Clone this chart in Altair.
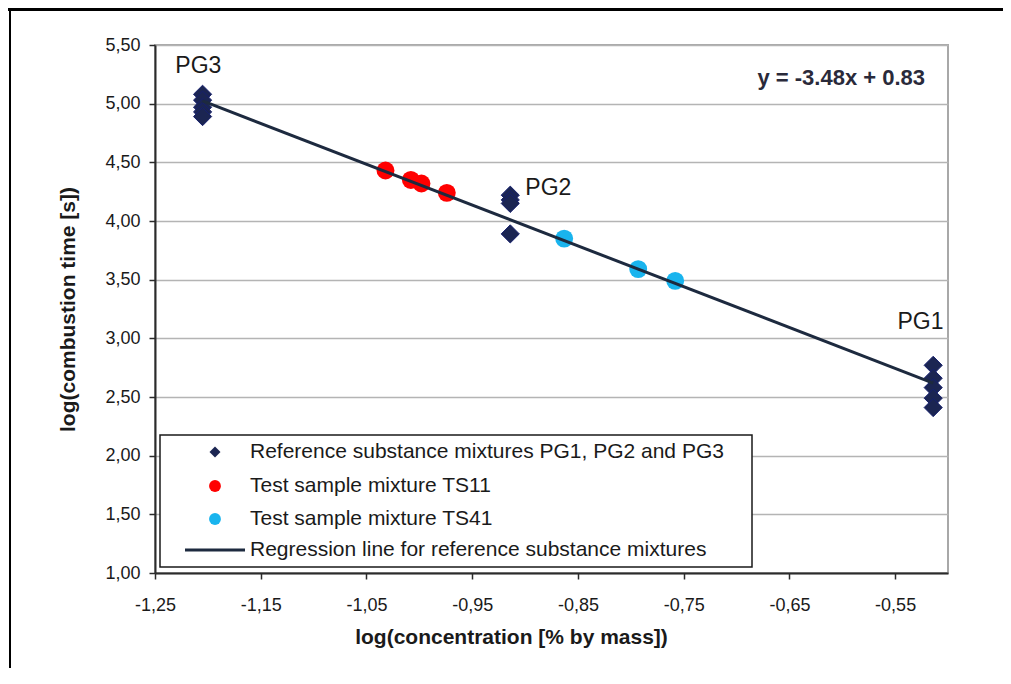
import altair as alt
import pandas as pd

# ---------------- data ----------------
pg3_x = -1.205
pg3_y = [5.08, 5.03, 4.97, 4.93, 4.89]
pg2_x = -0.914
pg2_y = [4.22, 4.18, 4.15, 3.89]
pg1_x = -0.514
pg1_y = [2.77, 2.66, 2.58, 2.49, 2.41]

ts11_x = [-1.032, -1.008, -0.998, -0.974]
ts11_y = [4.43, 4.35, 4.32, 4.24]

ts41_x = [-0.863, -0.793, -0.758]
ts41_y = [3.85, 3.59, 3.49]

slope = -3.48
intercept = 0.83
equation = "y = -3.48x + 0.83"

group_labels = ["PG3", "PG2", "PG1"]
group_label_x = [-1.209, -0.878, -0.526]
group_label_y = [5.32, 4.28, 3.14]

x_ticks = [-1.25, -1.15, -1.05, -0.95, -0.85, -0.75, -0.65, -0.55]
y_ticks = [1.0, 1.5, 2.0, 2.5, 3.0, 3.5, 4.0, 4.5, 5.0, 5.5]

legend_labels = [
    "Reference substance mixtures PG1, PG2 and PG3",
    "Test sample mixture TS11",
    "Test sample mixture TS41",
    "Regression line for reference substance mixtures",
]

NAVY = "#1b2552"
NAVY_EDGE = "#16206e"
RED = "#ff0000"
CYAN = "#19b4ee"
LINE = "#1d2a3f"
FONT = "Liberation Sans"

# ---------------- tables ----------------
ref_x = [pg3_x] * len(pg3_y) + [pg2_x] * len(pg2_y) + [pg1_x] * len(pg1_y)
ref_y = pg3_y + pg2_y + pg1_y
ref_df = pd.DataFrame({"x": ref_x, "y": ref_y})
ts11_df = pd.DataFrame({"x": ts11_x, "y": ts11_y})
ts41_df = pd.DataFrame({"x": ts41_x, "y": ts41_y})
line_x = [min(ref_x), max(ref_x)]
line_df = pd.DataFrame({"x": line_x, "y": [slope * v + intercept for v in line_x]})
lab_df = pd.DataFrame({"x": group_label_x, "y": group_label_y, "t": group_labels})
eq_df = pd.DataFrame({"x": [-0.601], "y": [5.22], "t": [equation]})
one = pd.DataFrame({"a": [0]})

fmt = "replace(replace(format(datum.value, '.2f'), '.', ','), '\u2212', '-')"

W, H = 793, 528

x_scale = alt.Scale(domain=[-1.25, -0.5], nice=False, zero=False)
y_scale = alt.Scale(domain=[1.0, 5.5], nice=False, zero=False)

x_axis = alt.Axis(
    values=x_ticks, labelExpr=fmt, grid=False,
    domainColor="#2b2b2b", domainWidth=2, tickColor="#2b2b2b", tickWidth=1.5, tickSize=6,
    labelFont=FONT, labelFontSize=18, labelColor="#1a1a1a", labelPadding=17,
    labelFlush=False, labelOverlap=False,
    title="log(concentration [% by mass])", titleFont=FONT, titleFontSize=21,
    titleFontWeight="bold", titleColor="#1a1a1a",
    titleX=356, titleY=64, titleAlign="center", titleBaseline="middle",
)
y_axis = alt.Axis(
    values=y_ticks, labelExpr=fmt, grid=True, gridColor="#b4b4b4", gridWidth=1.5,
    domainColor="#2b2b2b", domainWidth=2, tickColor="#2b2b2b", tickWidth=1.5, tickSize=6,
    labelFont=FONT, labelFontSize=18, labelColor="#1a1a1a", labelPadding=9,
    labelFlush=False, labelOverlap=False,
    title="log(combustion time [s])", titleFont=FONT, titleFontSize=21,
    titleFontWeight="bold", titleColor="#1a1a1a",
    titleX=-87, titleY=264, titleAngle=270, titleAlign="center", titleBaseline="middle",
)

X = alt.X("x:Q", scale=x_scale, axis=x_axis)
Y = alt.Y("y:Q", scale=y_scale, axis=y_axis)

ref_pts = alt.Chart(ref_df).mark_point(
    shape="diamond", filled=True, size=330, color=NAVY, stroke=NAVY_EDGE,
    strokeWidth=1, opacity=1
).encode(x=X, y=Y)

ts11_pts = alt.Chart(ts11_df).mark_circle(size=320, color=RED, opacity=1).encode(
    x="x:Q", y="y:Q")
ts41_pts = alt.Chart(ts41_df).mark_circle(size=320, color=CYAN, opacity=1).encode(
    x="x:Q", y="y:Q")

reg_line = alt.Chart(line_df).mark_line(color=LINE, strokeWidth=3).encode(
    x="x:Q", y="y:Q")

group_text = alt.Chart(lab_df).mark_text(
    font=FONT, fontSize=23, color="#1a1a1a", align="center", baseline="middle"
).encode(x="x:Q", y="y:Q", text="t:N")

eq_text = alt.Chart(eq_df).mark_text(
    font=FONT, fontSize=22, fontWeight="bold", color="#2a2a3a",
    align="center", baseline="middle"
).encode(x="x:Q", y="y:Q", text="t:N")

# ---------------- legend (drawn as a box in the plot corner) ----------------
leg_box = alt.Chart(one).mark_rect(fill="white", stroke="#1a1a1a", strokeWidth=1.5).encode(
    x=alt.value(5), x2=alt.value(597), y=alt.value(390), y2=alt.value(522))

row_y = [407, 441, 474, 505]
sym_x = 60
txt_x = 95
leg_layers = [leg_box]
leg_layers.append(alt.Chart(one).mark_point(
    shape="diamond", filled=True, size=120, color=NAVY, opacity=1).encode(
    x=alt.value(sym_x), y=alt.value(row_y[0])))
leg_layers.append(alt.Chart(one).mark_circle(size=140, color=RED, opacity=1).encode(
    x=alt.value(sym_x), y=alt.value(row_y[1])))
leg_layers.append(alt.Chart(one).mark_circle(size=140, color=CYAN, opacity=1).encode(
    x=alt.value(sym_x), y=alt.value(row_y[2])))
leg_layers.append(alt.Chart(one).mark_rule(color=LINE, strokeWidth=3).encode(
    x=alt.value(30), x2=alt.value(90), y=alt.value(row_y[3])))
for lbl, ry in zip(legend_labels, row_y):
    leg_layers.append(alt.Chart(one).mark_text(
        font=FONT, fontSize=21, color="#1a1a1a", align="left", baseline="middle"
    ).encode(x=alt.value(txt_x), y=alt.value(ry), text=alt.value(lbl)))

# ---------------- outer frame of the figure ----------------
frame_top = alt.Chart(one).mark_rule(color="black", strokeWidth=3).encode(
    x=alt.value(-147), x2=alt.value(850), y=alt.value(-35.5))
frame_left = alt.Chart(one).mark_rule(color="black", strokeWidth=2).encode(
    x=alt.value(-145), y=alt.value(-37), y2=alt.value(640))

chart = alt.layer(
    ref_pts, ts11_pts, ts41_pts, reg_line, group_text, eq_text,
    *leg_layers, frame_top, frame_left
).properties(
    width=W, height=H,
    autosize=alt.AutoSizeParams(type="none"),
    padding={"left": 147, "top": 37, "right": 55, "bottom": 95},
    background="white",
).configure_view(stroke="#a8a8a8", strokeWidth=2)

chart.save("out.html", embed_options={"renderer": "svg", "actions": False})
